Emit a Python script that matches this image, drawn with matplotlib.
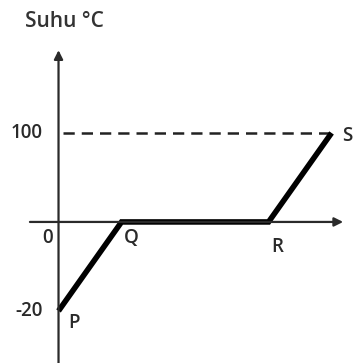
import matplotlib
matplotlib.use("Agg")
import matplotlib.pyplot as plt
import numpy as np

# heating curve: P -> Q -> R -> S (time in arbitrary units, temperature in C)
names = ["P", "Q", "R", "S"]
times = [0, 3, 10, 13]
temps = [-20, 0, 0, 100]
tick_vals = [100, -20]
tick_labels = ["100", "-20"]
boil = 100

plt.rcParams['font.family'] = ['Open Sans', 'DejaVu Sans']

# axis is not to scale: below zero is stretched 5x
k = 5.0


def fwd(y):
    y = np.asarray(y, dtype=float)
    return np.where(y < 0, y * k, y)


def inv(y):
    y = np.asarray(y, dtype=float)
    return np.where(y < 0, y / k, y)


fig = plt.figure(figsize=(3.53, 3.63), dpi=100)
ax = fig.add_axes([0, 0, 1, 1])
ax.set_yscale('function', functions=(fwd, inv))
ax.set_xlim(-2.786, 14.02)
ax.set_ylim(-31.7, 249.4)
ax.axis('off')

# axes with arrows
ax.annotate("", xy=(0, 193), xytext=(0, -31.7),
            arrowprops=dict(arrowstyle='-|>', color='#2a2a2a', lw=1.6,
                            mutation_scale=13, shrinkA=0, shrinkB=0))
ax.annotate("", xy=(13.55, 0), xytext=(-1.36, 0),
            arrowprops=dict(arrowstyle='-|>', color='#2a2a2a', lw=1.6,
                            mutation_scale=13, shrinkA=0, shrinkB=0))

# dashed boiling line
ax.plot([0.2, times[-1]], [boil, boil], color='#222222', lw=1.8,
        dashes=(4.5, 2.8))

# curve
ax.plot(times, temps, color='black', lw=4, solid_joinstyle='miter',
        solid_capstyle='butt')

# point labels
offsets = {"P": (15, -12, 'center'), "Q": (10, -16, 'center'),
           "R": (9, -25, 'center'), "S": (11, -3, 'left')}
style = dict(fontsize=13.5, color='#2a2a2a', fontweight='semibold')
for n, t, v in zip(names, times, temps):
    dx, dy, ha = offsets[n]
    ax.annotate(n, (t, v), xytext=(dx, dy), textcoords='offset pixels',
                ha=ha, va='center', **style)

# tick labels
for v, lab in zip(tick_vals, tick_labels):
    ax.annotate(lab, (0, v), xytext=(-16, 0), textcoords='offset pixels',
                ha='right', va='center', **style)
ax.annotate("0", (0, 0), xytext=(-11, -16), textcoords='offset pixels',
            ha='center', va='center', **style)

ax.text(0.07, 0.94, "Suhu \u00b0C", transform=ax.transAxes, ha='left',
        va='center', fontsize=15, color='#333333', fontweight='semibold')

fig.savefig("out.png", dpi=100)
